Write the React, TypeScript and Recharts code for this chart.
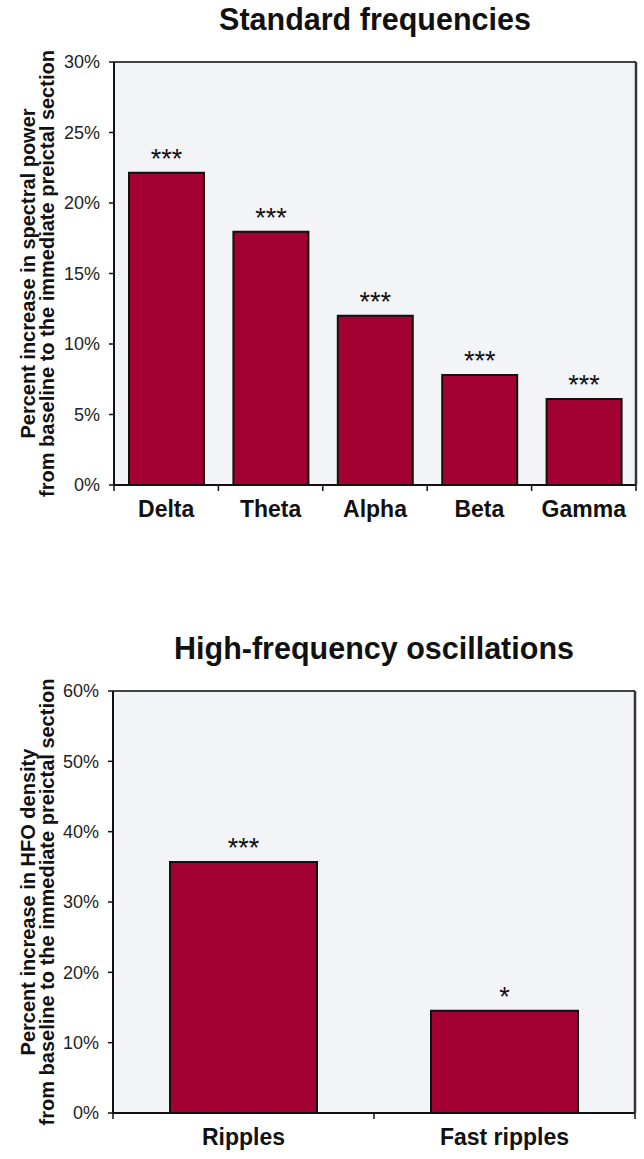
import React from 'react';
import { BarChart, Bar, XAxis, YAxis, CartesianGrid, LabelList, Label } from 'recharts';

const freqCategories = ['Delta', 'Theta', 'Alpha', 'Beta', 'Gamma'];
const freqValues = [22.15, 17.96, 12.0, 7.8, 6.1];
const freqSig = ['***', '***', '***', '***', '***'];
const freqTicks = [0, 5, 10, 15, 20, 25, 30];

const hfoCategories = ['Ripples', 'Fast ripples'];
const hfoValues = [35.7, 14.55];
const hfoSig = ['***', '*'];
const hfoTicks = [0, 10, 20, 30, 40, 50, 60];

const FONT = "'Liberation Sans',Arial,Helvetica,sans-serif";
const BAR_FILL = '#a30034';
const PLOT_BG = '#f3f4f7';

type PanelProps = {
  categories: string[];
  values: number[];
  sig: string[];
  ticks: number[];
  title: string;
  yLines: string[];
  top: number;
  height: number;
  margin: { top: number; right: number; bottom: number; left: number };
  barSize: number;
  yAxisWidth: number;
};

const CategoryTick = (props: any) => {
  const { x, y, payload, index, visibleTicksCount } = props;
  const half = (payload && payload.offset) || 0;
  const isLast = index === visibleTicksCount - 1;
  return (
    <g>
      <line x1={x - half} x2={x - half} y1={y} y2={y + 6} stroke="#111" strokeWidth={1.5} />
      {isLast && <line x1={x + half} x2={x + half} y1={y} y2={y + 6} stroke="#111" strokeWidth={1.5} />}
      <text
        x={x}
        y={y + 16}
        dy="0.71em"
        textAnchor="middle"
        fontFamily={FONT}
        fontWeight="bold"
        fontSize={23}
        fill="#111"
      >
        {payload.value}
      </text>
    </g>
  );
};

function Panel(p: PanelProps) {
  const data = p.categories.map((c, i) => ({ name: c, value: p.values[i], sig: p.sig[i] }));
  const yMax = p.ticks[p.ticks.length - 1];
  const plotLeft = p.margin.left + p.yAxisWidth;
  const plotRight = 644 - p.margin.right - 1;
  const titleCenter = (plotLeft + plotRight) / 2;

  const yLabel = (props: any) => {
    const vb = props.viewBox || { x: 0, y: 0, width: 0, height: 0 };
    const cy = vb.y + vb.height / 2;
    const xs = [vb.x + 28, vb.x + 47];
    return (
      <g>
        {p.yLines.map((t, i) => (
          <text
            key={i}
            x={xs[i]}
            y={cy}
            transform={`rotate(-90, ${xs[i]}, ${cy})`}
            textAnchor="middle"
            dominantBaseline="central"
            fontFamily={FONT}
            fontWeight="bold"
            fontSize={20}
            fill="#111"
          >
            {t}
          </text>
        ))}
      </g>
    );
  };

  return (
    <div style={{ position: 'absolute', left: 0, top: p.top, width: 644, height: p.height }}>
      <div
        style={{
          position: 'absolute',
          left: titleCenter - 250,
          width: 500,
          top: p.margin.top - 57,
          textAlign: 'center',
          fontFamily: FONT,
          fontWeight: 'bold',
          fontSize: 30.5,
          color: '#111',
          lineHeight: '30px',
          whiteSpace: 'nowrap',
        }}
      >
        {p.title}
      </div>
      <BarChart width={644} height={p.height} data={data} margin={p.margin}>
        <CartesianGrid fill={PLOT_BG} horizontal={false} vertical={false} stroke="none" />
        <XAxis
          dataKey="name"
          type="category"
          height={40}
          axisLine={{ stroke: '#111', strokeWidth: 2 }}
          tickLine={false}
          tickSize={0}
          tickMargin={0}
          interval={0}
          tick={<CategoryTick />}
        />
        <XAxis
          xAxisId="top"
          orientation="top"
          dataKey="name"
          height={1}
          tick={false}
          tickLine={false}
          axisLine={{ stroke: '#444', strokeWidth: 2 }}
        />
        <YAxis
          yAxisId="r"
          orientation="right"
          width={1}
          domain={[0, yMax]}
          tick={false}
          tickLine={false}
          axisLine={{ stroke: '#333', strokeWidth: 2.5 }}
        />
        <YAxis
          domain={[0, yMax]}
          ticks={p.ticks}
          width={p.yAxisWidth}
          interval={0}
          tickSize={5}
          tickMargin={9}
          tickFormatter={(v: number) => `${v}%`}
          axisLine={{ stroke: '#111', strokeWidth: 2 }}
          tickLine={{ stroke: '#111', strokeWidth: 1.5 }}
          tick={{ fontFamily: FONT, fontSize: 18, fill: '#222' }}
        >
          <Label content={yLabel} position="insideLeft" />
        </YAxis>
        <Bar
          dataKey="value"
          fill={BAR_FILL}
          stroke="#111"
          strokeWidth={2}
          barSize={p.barSize}
          isAnimationActive={false}
        >
          <LabelList
            dataKey="sig"
            position="top"
            offset={5}
            style={{ fontFamily: FONT, fontSize: 27, fill: '#111' }}
          />
        </Bar>
      </BarChart>
    </div>
  );
}

export default function App() {
  return (
    <div style={{ position: 'absolute', left: 0, top: 0, width: 644, height: 1159, background: '#fff' }}>
      <Panel
        categories={freqCategories}
        values={freqValues}
        sig={freqSig}
        ticks={freqTicks}
        title="Standard frequencies"
        yLines={['Percent increase in spectral power', 'from baseline to the immediate preictal section']}
        top={0}
        height={560}
        margin={{ top: 61, right: 7, bottom: 35, left: 0 }}
        barSize={75}
        yAxisWidth={114}
      />
      <Panel
        categories={hfoCategories}
        values={hfoValues}
        sig={hfoSig}
        ticks={hfoTicks}
        title="High-frequency oscillations"
        yLines={['Percent increase in HFO density', 'from baseline to the immediate preictal section']}
        top={580}
        height={579}
        margin={{ top: 110, right: 8, bottom: 6, left: 0 }}
        barSize={147}
        yAxisWidth={113}
      />
    </div>
  );
}
